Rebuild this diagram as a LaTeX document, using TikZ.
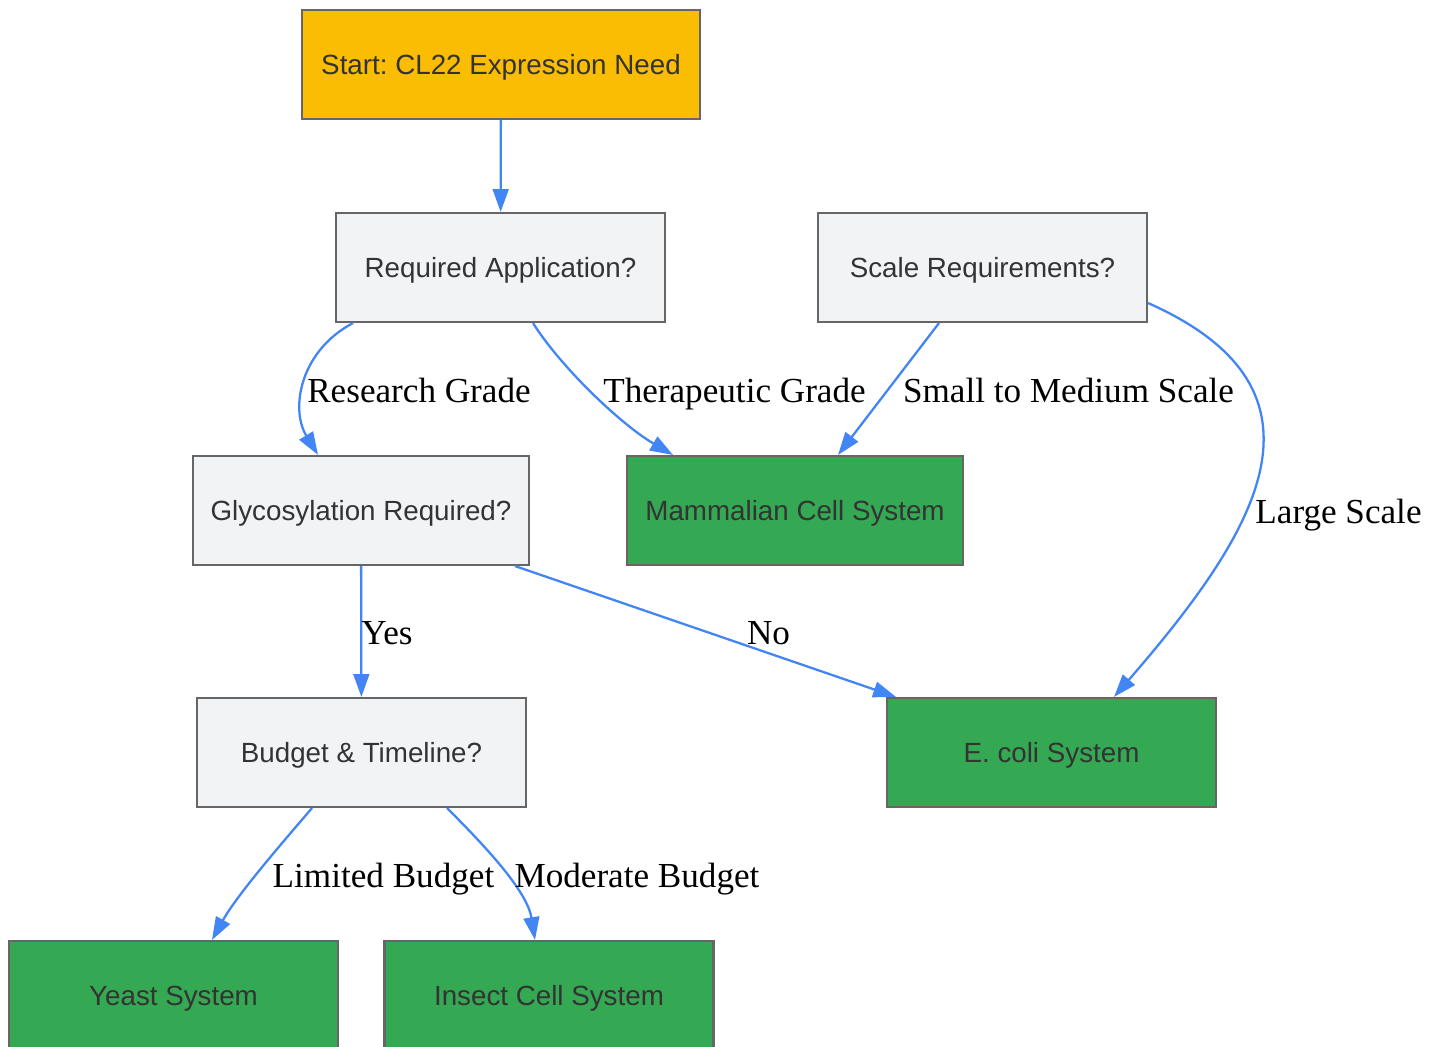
\documentclass[tikz,border=0pt]{standalone}
\usepackage{fontspec}
\setmainfont{Liberation Serif}
\newfontfamily\boxfont{Liberation Sans}
\usetikzlibrary{arrows.meta,calc}
\definecolor{startfill}{HTML}{FBBC04}
\definecolor{askfill}{HTML}{F1F3F5}
\definecolor{endfill}{HTML}{34A853}
\definecolor{boxline}{HTML}{666666}
\definecolor{flow}{HTML}{4285F4}
\definecolor{boxtext}{HTML}{333333}
\frenchspacing
\begin{document}
\begin{tikzpicture}[>={Triangle[length=13pt,width=9pt]}, x=0.02cm, y=-0.02cm,
        box/.style={draw=boxline, line width=1.2pt, minimum width=6.58cm, minimum height=2.18cm,
            inner sep=0pt, text depth=0pt, text=boxtext, font=\boxfont\fontsize{15.8}{18}\selectfont},
        ask/.style={box, fill=askfill},
        sys/.style={box, fill=endfill},
        flowline/.style={->, color=flow, line width=1.3pt},
        lbl/.style={font=\fontsize{20}{24}\selectfont, inner sep=0pt, text depth=0pt}]
                \useasboundingbox (0,0) rectangle (1439,1047);
                % boxes
                \node[box, fill=startfill, minimum width=7.96cm] (start) at (501,64.5) {Start: CL22 Expression Need};
                \node[ask] (app) at (500.5,267.5) {Required Application?};
                \node[ask] (scale) at (982.5,267.5) {Scale Requirements?};
                \node[ask, minimum width=6.72cm] (glyco) at (361,510.5) {Glycosylation Required?};
                \node[sys, minimum width=6.72cm] (mammal) at (795,510.5) {Mammalian Cell System};
                \node[ask] (budget) at (361.5,752.5) {Budget \& Timeline?};
                \node[sys] (ecoli) at (1051.5,752.5) {E. coli System};
                \node[sys] (yeast) at (173.5,995.5) {Yeast System};
                \node[sys] (insect) at (549,995.5) {Insect Cell System};
                % connectors
                \draw[flowline] (start) -- (app);
                \draw[flowline] ($(app.south)+(-147.5,0)$) .. controls +(-53,28) and +(-28,-46) .. ($(glyco.north)+(-43,0)$);
                \draw[flowline] ($(app.south)+(32.5,0)$) .. controls +(27,43) and +(-53,-31) .. ($(mammal.north)+(-122,0)$);
                \draw[flowline] ($(scale.south)+(-43.5,0)$) -- ($(mammal.north)+(43,0)$);
                \draw[flowline] ($(scale.east)+(0,35.5)$) .. controls +(198,88) and +(142,-164) .. ($(ecoli.north)+(62.5,0)$);
                \draw[flowline] ($(glyco.south)+(154,0)$) -- ($(ecoli.north)+(-155.5,0)$);
                \draw[flowline] (glyco) -- (budget);
                \draw[flowline] ($(budget.south)+(-49.5,0)$) .. controls +(-30,35) and +(25,-45) .. ($(yeast.north)+(38.5,0)$);
                \draw[flowline] ($(budget.south)+(85.5,0)$) .. controls +(35,35) and +(-8,-50) .. ($(insect.north)+(-14,0)$);
                % labels
                \node[lbl] (lResearch) at (419,390) {Research Grade};
                \node[lbl] (lTherapy) at (734.5,390) {Therapeutic Grade};
                \node[lbl] (lSmall) at (1068.5,390) {Small to Medium Scale};
                \node[lbl] (lLarge) at (1338.5,511) {Large Scale};
                \node[lbl] (lYes) at (387,633) {Yes};
                \node[lbl] (lNo) at (768.5,633) {No};
                \node[lbl] (lLimited) at (383.5,875) {Limited Budget};
                \node[lbl] (lModerate) at (637,875) {Moderate Budget};
            \end{tikzpicture}
\end{document}
